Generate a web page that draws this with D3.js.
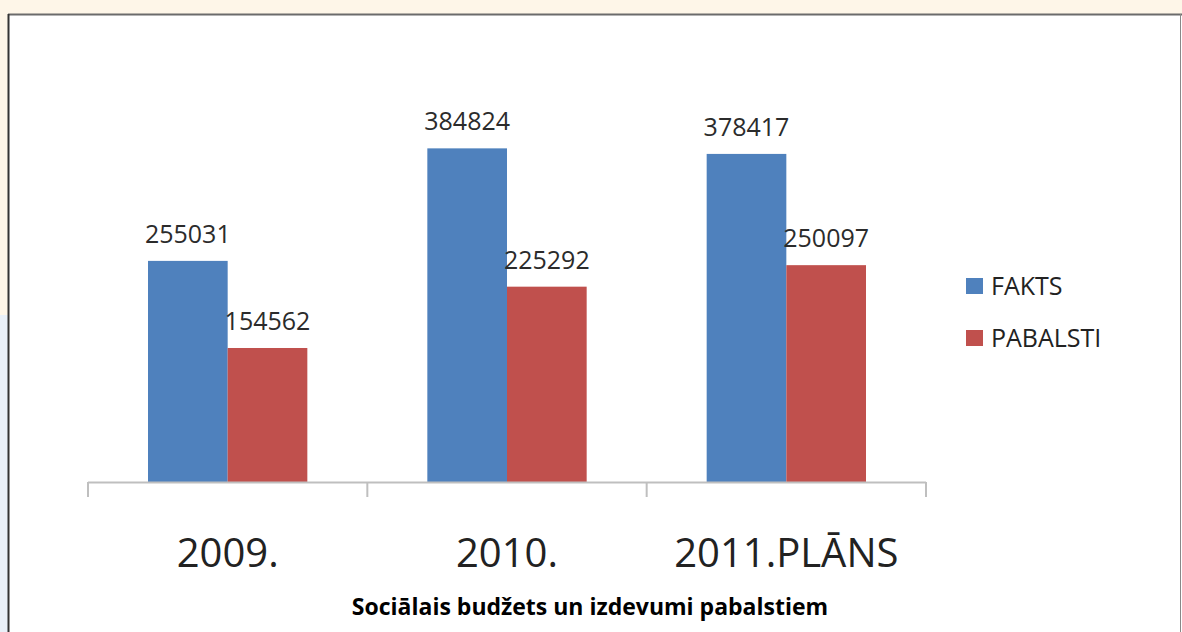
<!DOCTYPE html>
<html>
<head>
<meta charset="utf-8">
<script src="https://cdn.jsdelivr.net/npm/d3@7"></script>
<style>
  html, body { margin: 0; padding: 0; background: #fef6e8; }
  svg { display: block; }
</style>
</head>
<body>
<script>
const categories = ["2009.", "2010.", "2011.PLĀNS"];
const seriesNames = ["FAKTS", "PABALSTI"];
const fakts = [255031, 384824, 378417];
const pabalsti = [154562, 225292, 250097];
const colors = ["#4f81bd", "#c0504d"];
const title = "Sociālais budžets un izdevumi pabalstiem";

const width = 1182, height = 632;
const font = "'Open Sans', 'Noto Sans', sans-serif";

const svg = d3.select("body").append("svg")
  .attr("width", width)
  .attr("height", height);

// slide background + white chart frame
svg.append("rect").attr("x", 0).attr("y", 0).attr("width", width).attr("height", height).attr("fill", "#fef6e8");
svg.append("rect").attr("x", 0).attr("y", 315).attr("width", 9).attr("height", height - 315).attr("fill", "#e9f0f8");
svg.append("rect").attr("x", 8).attr("y", 14).attr("width", width - 8).attr("height", height - 14).attr("fill", "#fff");
svg.append("line").attr("x1", 8).attr("x2", width).attr("y1", 14.5).attr("y2", 14.5)
  .attr("stroke", "#6b6b6b").attr("stroke-width", 2);
svg.append("line").attr("x1", 8.5).attr("x2", 8.5).attr("y1", 14).attr("y2", height)
  .attr("stroke", "#333").attr("stroke-width", 2);
svg.append("line").attr("x1", 1180.5).attr("x2", 1180.5).attr("y1", 14).attr("y2", height)
  .attr("stroke", "#888").attr("stroke-width", 1);

const data = categories.map((c, i) => ({ cat: c, values: [fakts[i], pabalsti[i]] }));

const x0 = d3.scaleBand().domain(categories).range([88, 926]).paddingInner(0).paddingOuter(0);
const x1 = d3.scaleBand().domain(seriesNames).range([60, x0.bandwidth() - 60]);
const y = d3.scaleLinear().domain([0, 400000]).range([482, 482 - 400000 * 0.000867]);

const g = svg.append("g");

const groups = g.selectAll(".grp")
  .data(data)
  .join("g")
  .attr("class", "grp")
  .attr("transform", (d) => `translate(${x0(d.cat)},0)`);

groups.selectAll("rect")
  .data((d) => d.values.map((v, i) => ({ key: seriesNames[i], v, i })))
  .join("rect")
  .attr("x", (d) => x1(d.key))
  .attr("y", (d) => y(d.v))
  .attr("width", x1.bandwidth())
  .attr("height", (d) => y(0) - y(d.v))
  .attr("fill", (d) => colors[d.i]);

groups.selectAll(".lbl")
  .data((d) => d.values.map((v, i) => ({ key: seriesNames[i], v, i })))
  .join("text")
  .attr("class", "lbl")
  .attr("x", (d) => x1(d.key) + x1.bandwidth() / 2)
  .attr("y", (d) => y(d.v) - 18)
  .attr("text-anchor", "middle")
  .attr("font-family", font)
  .attr("font-size", 25)
  .attr("fill", "#2b2b2b")
  .text((d) => d.v);

// category axis
const xAxis = g.append("g").attr("transform", `translate(0,482)`);
xAxis.append("line").attr("x1", 88).attr("x2", 926).attr("y1", 0.5).attr("y2", 0.5)
  .attr("stroke", "#bfbfbf").attr("stroke-width", 2);
const tickXs = categories.map((c) => x0(c)).concat([926]);
xAxis.selectAll(".tick")
  .data(tickXs)
  .join("line")
  .attr("x1", (d) => d).attr("x2", (d) => d)
  .attr("y1", 0).attr("y2", 15)
  .attr("stroke", "#bfbfbf").attr("stroke-width", 2);
xAxis.selectAll(".cat")
  .data(categories)
  .join("text")
  .attr("x", (d) => x0(d) + x0.bandwidth() / 2)
  .attr("y", 85)
  .attr("text-anchor", "middle")
  .attr("font-family", font)
  .attr("font-size", 40)
  .attr("fill", "#222")
  .text((d) => d);

// legend
const legend = svg.append("g").attr("transform", "translate(966,278)");
const li = legend.selectAll("g")
  .data(seriesNames)
  .join("g")
  .attr("transform", (d, i) => `translate(0,${i * 52})`);
li.append("rect").attr("width", 17).attr("height", 16).attr("fill", (d, i) => colors[i]);
li.append("text")
  .attr("x", 25)
  .attr("y", 17)
  .attr("font-family", font)
  .attr("font-size", 25)
  .attr("fill", "#222")
  .text((d) => d);

// title
svg.append("text")
  .attr("x", 590)
  .attr("y", 615)
  .attr("text-anchor", "middle")
  .attr("font-family", font)
  .attr("font-weight", "bold")
  .attr("font-size", 23)
  .attr("fill", "#000")
  .text(title);
</script>
</body>
</html>
